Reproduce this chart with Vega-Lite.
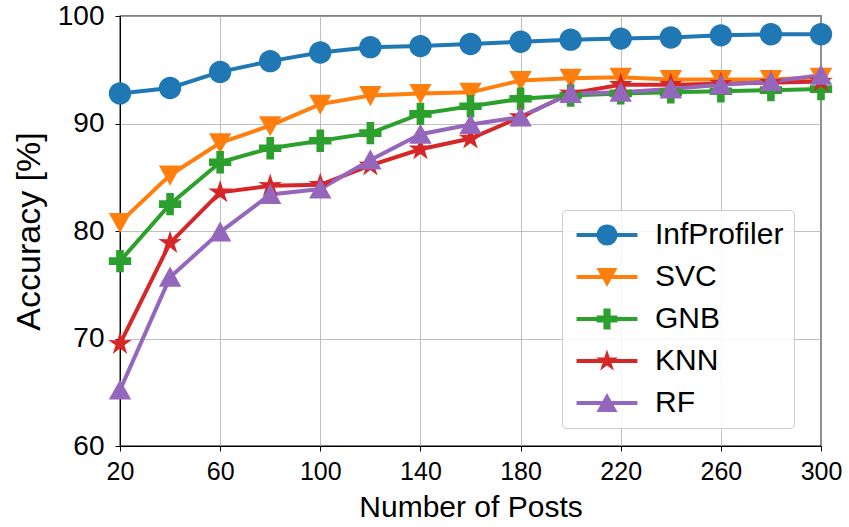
{
  "$schema": "https://vega.github.io/schema/vega-lite/v6.json",
  "width": 701,
  "height": 430,
  "autosize": {"type": "none"},
  "padding": {"left": 120, "top": 16, "right": 28, "bottom": 81},
  "background": "white",
  "config": {
    "font": "Liberation Sans",
    "view": {"stroke": "#000000", "strokeWidth": 1.3},
    "axis": {
      "domainColor": "#000000",
      "tickColor": "#000000",
      "labelColor": "#000000",
      "titleColor": "#000000",
      "gridColor": "#b0b0b0",
      "gridWidth": 1,
      "gridOpacity": 0.8,
      "tickSize": 5,
      "labelFont": "Liberation Sans",
      "titleFont": "Liberation Sans",
      "titleFontWeight": "normal"
    }
  },
  "data": {
    "values": [
      {"n": 20, "model": "InfProfiler", "acc": 92.8},
      {"n": 40, "model": "InfProfiler", "acc": 93.3},
      {"n": 60, "model": "InfProfiler", "acc": 94.8},
      {"n": 80, "model": "InfProfiler", "acc": 95.8},
      {"n": 100, "model": "InfProfiler", "acc": 96.6},
      {"n": 120, "model": "InfProfiler", "acc": 97.1},
      {"n": 140, "model": "InfProfiler", "acc": 97.2},
      {"n": 160, "model": "InfProfiler", "acc": 97.4},
      {"n": 180, "model": "InfProfiler", "acc": 97.6},
      {"n": 200, "model": "InfProfiler", "acc": 97.8},
      {"n": 220, "model": "InfProfiler", "acc": 97.9},
      {"n": 240, "model": "InfProfiler", "acc": 98.0},
      {"n": 260, "model": "InfProfiler", "acc": 98.2},
      {"n": 280, "model": "InfProfiler", "acc": 98.3},
      {"n": 300, "model": "InfProfiler", "acc": 98.3},

      {"n": 20, "model": "SVC", "acc": 80.8},
      {"n": 40, "model": "SVC", "acc": 85.2},
      {"n": 60, "model": "SVC", "acc": 88.2},
      {"n": 80, "model": "SVC", "acc": 89.8},
      {"n": 100, "model": "SVC", "acc": 91.8},
      {"n": 120, "model": "SVC", "acc": 92.6},
      {"n": 140, "model": "SVC", "acc": 92.8},
      {"n": 160, "model": "SVC", "acc": 92.9},
      {"n": 180, "model": "SVC", "acc": 94.0},
      {"n": 200, "model": "SVC", "acc": 94.2},
      {"n": 220, "model": "SVC", "acc": 94.3},
      {"n": 240, "model": "SVC", "acc": 94.1},
      {"n": 260, "model": "SVC", "acc": 94.1},
      {"n": 280, "model": "SVC", "acc": 94.1},
      {"n": 300, "model": "SVC", "acc": 94.3},

      {"n": 20, "model": "GNB", "acc": 77.2},
      {"n": 40, "model": "GNB", "acc": 82.5},
      {"n": 60, "model": "GNB", "acc": 86.4},
      {"n": 80, "model": "GNB", "acc": 87.7},
      {"n": 100, "model": "GNB", "acc": 88.4},
      {"n": 120, "model": "GNB", "acc": 89.1},
      {"n": 140, "model": "GNB", "acc": 90.9},
      {"n": 160, "model": "GNB", "acc": 91.6},
      {"n": 180, "model": "GNB", "acc": 92.3},
      {"n": 200, "model": "GNB", "acc": 92.6},
      {"n": 220, "model": "GNB", "acc": 92.8},
      {"n": 240, "model": "GNB", "acc": 92.9},
      {"n": 260, "model": "GNB", "acc": 93.0},
      {"n": 280, "model": "GNB", "acc": 93.1},
      {"n": 300, "model": "GNB", "acc": 93.2},

      {"n": 20, "model": "KNN", "acc": 69.5},
      {"n": 40, "model": "KNN", "acc": 78.9},
      {"n": 60, "model": "KNN", "acc": 83.6},
      {"n": 80, "model": "KNN", "acc": 84.2},
      {"n": 100, "model": "KNN", "acc": 84.3},
      {"n": 120, "model": "KNN", "acc": 86.1},
      {"n": 140, "model": "KNN", "acc": 87.6},
      {"n": 160, "model": "KNN", "acc": 88.6},
      {"n": 180, "model": "KNN", "acc": 90.6},
      {"n": 200, "model": "KNN", "acc": 92.8},
      {"n": 220, "model": "KNN", "acc": 93.6},
      {"n": 240, "model": "KNN", "acc": 93.6},
      {"n": 260, "model": "KNN", "acc": 93.7},
      {"n": 280, "model": "KNN", "acc": 93.8},
      {"n": 300, "model": "KNN", "acc": 93.9},

      {"n": 20, "model": "RF", "acc": 65.2},
      {"n": 40, "model": "RF", "acc": 75.7},
      {"n": 60, "model": "RF", "acc": 79.9},
      {"n": 80, "model": "RF", "acc": 83.4},
      {"n": 100, "model": "RF", "acc": 83.9},
      {"n": 120, "model": "RF", "acc": 86.6},
      {"n": 140, "model": "RF", "acc": 89.0},
      {"n": 160, "model": "RF", "acc": 89.9},
      {"n": 180, "model": "RF", "acc": 90.6},
      {"n": 200, "model": "RF", "acc": 92.8},
      {"n": 220, "model": "RF", "acc": 92.9},
      {"n": 240, "model": "RF", "acc": 93.2},
      {"n": 260, "model": "RF", "acc": 93.6},
      {"n": 280, "model": "RF", "acc": 93.9},
      {"n": 300, "model": "RF", "acc": 94.5}
    ]
  },
  "encoding": {
    "x": {
      "field": "n",
      "type": "quantitative",
      "scale": {"domain": [20, 300], "nice": false, "zero": false},
      "axis": {
        "values": [20, 60, 100, 140, 180, 220, 260, 300],
        "title": "Number of Posts",
        "labelFontSize": 25,
        "titleFontSize": 30,
        "labelPadding": 8,
        "titlePadding": 8,
        "labelFlush": false
      }
    },
    "y": {
      "field": "acc",
      "type": "quantitative",
      "scale": {"domain": [60, 100], "nice": false, "zero": false},
      "axis": {
        "values": [60, 70, 80, 90, 100],
        "title": "Accuracy [%]",
        "labelFontSize": 28,
        "titleFontSize": 34,
        "labelPadding": 11,
        "titlePadding": 11,
        "labelFlush": false
      }
    }
  },
  "layer": [
    {
      "mark": {"type": "line", "strokeWidth": 4},
      "encoding": {
        "stroke": {
          "field": "model",
          "type": "nominal",
          "sort": ["InfProfiler", "SVC", "GNB", "KNN", "RF"],
          "scale": {
            "range": ["#1f77b4", "#ff7f0e", "#2ca02c", "#d62728", "#9467bd"]
          },
          "legend": {
            "title": null,
            "orient": "none",
            "legendX": 442,
            "legendY": 194,
            "labelFontSize": 30,
            "labelFont": "Liberation Sans",
            "labelColor": "#000000",
            "symbolType": "M-2.9,0H2.9",
            "symbolSize": 441,
            "symbolStrokeWidth": 4,
            "symbolOffset": 20,
            "labelOffset": 33,
            "rowPadding": 12,
            "padding": 10,
            "fillColor": "rgba(255,255,255,0.85)",
            "strokeColor": "#cccccc",
            "cornerRadius": 4
          }
        }
      }
    },
    {
      "mark": {"type": "point", "filled": true, "opacity": 1, "size": 500, "strokeWidth": 0},
      "encoding": {
        "color": {
          "field": "model",
          "type": "nominal",
          "sort": ["InfProfiler", "SVC", "GNB", "KNN", "RF"],
          "scale": {
            "domain": ["InfProfiler", "SVC", "GNB", "KNN", "RF"],
            "range": ["#1f77b4", "#ff7f0e", "#2ca02c", "#d62728", "#9467bd"]
          },
          "legend": {
            "title": null,
            "orient": "none",
            "legendX": 442,
            "legendY": 194,
            "labelFontSize": 30,
            "labelFont": "Liberation Sans",
            "labelColor": "#000000",
            "labelOpacity": 0,
            "symbolSize": 441,
            "symbolOpacity": 1,
            "symbolOffset": 20,
            "labelOffset": 33,
            "rowPadding": 12,
            "padding": 10,
            "cornerRadius": 4
          }
        },
        "shape": {
          "field": "model",
          "type": "nominal",
          "sort": ["InfProfiler", "SVC", "GNB", "KNN", "RF"],
          "scale": {
            "domain": ["InfProfiler", "SVC", "GNB", "KNN", "RF"],
            "range": [
              "M1,0A1,1,0,1,1,-1,0A1,1,0,1,1,1,0Z",
              "M-1,-0.85L1,-0.85L0,0.95Z",
              "M-0.34,-1H0.34V-0.34H1V0.34H0.34V1H-0.34V0.34H-1V-0.34H-0.34Z",
              "M0,-1.1L0.25,-0.33L1.05,-0.34L0.4,0.13L0.65,0.9L0,0.42L-0.65,0.9L-0.4,0.13L-1.05,-0.34L-0.25,-0.33Z",
              "M0,-0.95L1,0.85L-1,0.85Z"
            ]
          },
          "legend": null
        }
      }
    }
  ]
}
